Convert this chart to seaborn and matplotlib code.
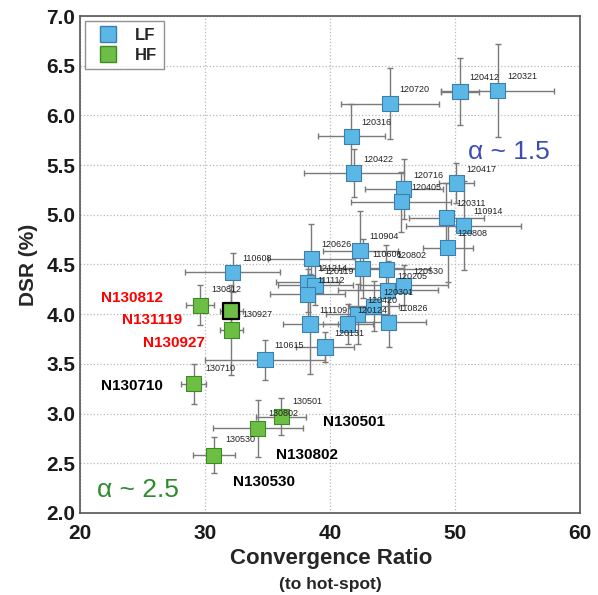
import matplotlib
matplotlib.use("Agg")
import matplotlib.pyplot as plt
import seaborn as sns
import pandas as pd
from matplotlib.lines import Line2D
from matplotlib.ticker import FormatStrFormatter

# ---------------- data ----------------
lf_ids = ['120321', '120412', '120720', '120316', '120422', '120417', '120716',
          '120405', '120311', '110914', '120808', '110608', '120626', '110904',
          '110606', '120802', '121214', '120119', '111112', '120205', '120530',
          '120301', '120420', '111109', '120124', '110826', '120131', '110615']
lf_cr = [53.4, 50.4, 44.8, 41.7, 41.9, 50.1, 45.9, 45.7, 49.3, 50.7, 49.4, 32.2,
         38.5, 42.4, 42.6, 44.5, 38.2, 38.8, 38.2, 44.6, 45.9, 43.5, 42.2, 38.4,
         41.4, 44.7, 39.6, 34.8]
lf_dsr = [6.25, 6.24, 6.12, 5.79, 5.42, 5.32, 5.26, 5.13, 4.97, 4.89, 4.67, 4.42,
          4.56, 4.64, 4.46, 4.45, 4.32, 4.29, 4.20, 4.24, 4.29, 4.08, 4.00, 3.90,
          3.90, 3.92, 3.67, 3.54]
lf_cr_err = [4.5, 1.5, 3.9, 2.7, 4.0, 1.4, 3.1, 4.0, 3.0, 4.6, 2.0, 3.8, 3.5, 3.0,
             3.3, 3.5, 2.5, 3.0, 3.0, 4.0, 3.5, 2.0, 2.5, 2.2, 2.0, 3.0, 2.3, 4.8]
lf_dsr_err = [0.47, 0.34, 0.36, 0.33, 0.24, 0.20, 0.30, 0.30, 0.35, 0.45, 0.35,
              0.20, 0.35, 0.40, 0.30, 0.25, 0.30, 0.20, 0.25, 0.30, 0.20, 0.25,
              0.30, 0.50, 0.20, 0.25, 0.15, 0.20]

hf_ids = ['130812', '131119', '130927', '130710', '130501', '130802', '130530']
hf_short = ['130812', '', '130927', '130710', '130501', '130802', '130530']
hf_cr = [29.6, 32.1, 32.1, 29.1, 36.1, 34.2, 30.7]
hf_dsr = [4.09, 4.03, 3.84, 3.30, 2.97, 2.85, 2.58]
hf_cr_err = [1.1, 0.9, 0.9, 1.0, 2.0, 3.6, 1.7]
hf_dsr_err = [0.20, 0.20, 0.45, 0.20, 0.19, 0.29, 0.18]

x_ticks = [20, 30, 40, 50, 60]
y_ticks = [2.0, 2.5, 3.0, 3.5, 4.0, 4.5, 5.0, 5.5, 6.0, 6.5, 7.0]

# ---------------- style ----------------
sns.set_style("white")
plt.rcParams['font.family'] = ['Liberation Sans', 'DejaVu Sans']

LF_C, LF_E = '#5bb8e6', '#3c7fae'
HF_C, HF_E = '#6cbf44', '#3f8a25'

df = pd.DataFrame({
    'id': lf_ids + hf_ids,
    'cr': lf_cr + hf_cr,
    'dsr': lf_dsr + hf_dsr,
    'cr_err': lf_cr_err + hf_cr_err,
    'dsr_err': lf_dsr_err + hf_dsr_err,
    'grp': ['LF'] * len(lf_ids) + ['HF'] * len(hf_ids),
})

fig = plt.figure(figsize=(5.98, 5.95), dpi=100)
ax = fig.add_axes([0.134, 0.138, 0.836, 0.835])

ax.errorbar(df['cr'], df['dsr'], xerr=df['cr_err'], yerr=df['dsr_err'],
            fmt='none', ecolor='#7a7a7a', elinewidth=1.0, capsize=2.5,
            capthick=1.0, zorder=2)

sns.scatterplot(data=df, x='cr', y='dsr', hue='grp', marker='s', s=120,
                palette={'LF': LF_C, 'HF': HF_C}, edgecolor=LF_E,
                linewidth=0.8, legend=False, ax=ax, zorder=3)
coll = ax.collections[-1]
coll.set_edgecolor([LF_E] * len(lf_ids) + [HF_E] * len(hf_ids))

# highlight 131119 with black edge
sel = df[df['id'] == '131119']
sns.scatterplot(data=sel, x='cr', y='dsr', marker='s', s=130, color=HF_C,
                edgecolor='black', linewidth=1.6, legend=False, ax=ax, zorder=4)

# small id labels
for i, lab in enumerate(lf_ids):
    ax.annotate(lab, (lf_cr[i], lf_dsr[i]), xytext=(7, 10),
                textcoords='offset points', fontsize=6.5, color='#222222',
                ha='left', va='center', zorder=5)
for i, lab in enumerate(hf_short):
    if lab:
        ax.annotate(lab, (hf_cr[i], hf_dsr[i]), xytext=(8, 11),
                    textcoords='offset points', fontsize=6.5, color='#222222',
                    ha='left', va='center', zorder=5)

# bold shot names
big = {
    '130812': ('N130812', 'red', (-27, 5), 'right'),
    '131119': ('N131119', 'red', (-35, -6), 'right'),
    '130927': ('N130927', 'red', (-19, -9), 'right'),
    '130710': ('N130710', 'black', (-22, -2), 'right'),
    '130501': ('N130501', 'black', (30, -4), 'left'),
    '130802': ('N130802', 'black', (13, -19), 'left'),
    '130530': ('N130530', 'black', (14, -19), 'left'),
}
for i, hid in enumerate(hf_ids):
    txt, col, off, ha = big[hid]
    ax.annotate(txt, (hf_cr[i], hf_dsr[i]), xytext=off,
                textcoords='offset points', fontsize=11, fontweight='bold',
                color=col, ha=ha, va='center', zorder=6)

ax.text(0.033, 0.022, 'α ~ 2.5', transform=ax.transAxes, fontsize=19,
        color='#2e8b2e', ha='left', va='bottom')
ax.text(0.775, 0.703, 'α ~ 1.5', transform=ax.transAxes, fontsize=19,
        color='#3b4db3', ha='left', va='bottom')

ax.set_xlim(20, 60)
ax.set_ylim(2.0, 7.0)
ax.set_xticks(x_ticks)
ax.set_yticks(y_ticks)
ax.yaxis.set_major_formatter(FormatStrFormatter('%.1f'))
ax.grid(True, linestyle=':', color='#b8b8b8', linewidth=0.9)
ax.tick_params(direction='in', length=4, width=0.8, colors='#555555',
               labelcolor='#1a1a1a', labelsize=15)
ax.tick_params(axis='x', pad=8)
for lab in ax.get_xticklabels() + ax.get_yticklabels():
    lab.set_fontweight('bold')
for sp in ax.spines.values():
    sp.set_color('#555555')
    sp.set_linewidth(1.2)

ax.set_xlabel('')
ax.set_ylabel('DSR (%)', fontsize=15, fontweight='bold', labelpad=6)
fig.text(0.553, 0.062, 'Convergence Ratio', fontsize=16, fontweight='bold',
         ha='center', va='center')
fig.text(0.553, 0.017, '(to hot-spot)', fontsize=12.5, fontweight='bold',
         ha='center', va='center')

handles = [Line2D([0], [0], marker='s', linestyle='none', markersize=12,
                  markerfacecolor=LF_C, markeredgecolor=LF_E, label='LF'),
           Line2D([0], [0], marker='s', linestyle='none', markersize=12,
                  markerfacecolor=HF_C, markeredgecolor=HF_E, label='HF')]
leg = ax.legend(handles=handles, loc='upper left', frameon=True, fancybox=False,
                prop={'weight': 'bold', 'size': 12}, borderpad=0.4,
                labelspacing=0.3, handletextpad=0.6, borderaxespad=0.3)
leg.get_frame().set_edgecolor('#777777')
leg.get_frame().set_linewidth(1.0)

fig.savefig('out.png', dpi=100)
